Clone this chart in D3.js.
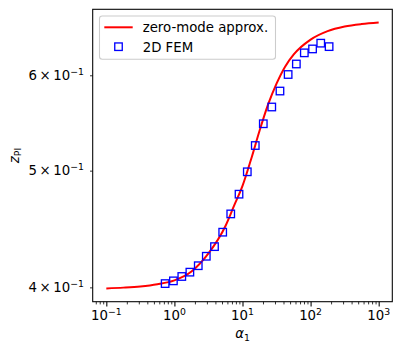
<!DOCTYPE html>
<html>
<head>
<meta charset="utf-8">
<script src="https://cdn.jsdelivr.net/npm/d3@7"></script>
<style>
  body { margin: 0; background: #fff; }
  svg { display: block; font-family: "DejaVu Sans", sans-serif; }
</style>
</head>
<body>
<svg id="chart" width="402" height="354"></svg>
<script>
// zero-mode approximation curve
const curveX = [0.1, 0.178, 0.316, 0.562, 1, 1.78, 3.16, 5.62, 7.5, 10, 13.3, 17.8, 23.7, 31.6, 42.2, 56.2, 100, 178, 316, 562, 1000];
const curveY = [0.3992, 0.3998, 0.4007, 0.4024, 0.4054, 0.4123, 0.4268, 0.4498, 0.4674, 0.4856, 0.5105, 0.5396, 0.5672, 0.5905, 0.6100, 0.6242, 0.6424, 0.6529, 0.6586, 0.6617, 0.6636];

// 2D FEM points
const femX = [0.731, 0.967, 1.284, 1.687, 2.24, 2.94, 3.88, 5.12, 6.72, 8.89, 11.76, 15.4, 20.2, 26.9, 35.5, 46.8, 61.8, 80.9, 106.9, 141, 187];
const femY = [0.4029, 0.4050, 0.4084, 0.4118, 0.4169, 0.4245, 0.4324, 0.4445, 0.4603, 0.4780, 0.4989, 0.5246, 0.5469, 0.5647, 0.5822, 0.6009, 0.6131, 0.6263, 0.6310, 0.6380, 0.6338];

// tick labels
const xTicks = [0.1, 1, 10, 100, 1000];
const xTickExp = ["\u22121", "0", "1", "2", "3"];
const yTicks = [0.4, 0.5, 0.6];
const yTickMant = ["4", "5", "6"];

const legendLabels = ["zero-mode approx.", "2D FEM"];

// plot box
const boxLeft = 92.7, boxRight = 392.3, boxTop = 9.3, boxBottom = 301.7;
const fontSize = 13.3, supSize = 9.3;

const svg = d3.select("#chart");

// matplotlib style 5% margins in log space
function logDomain(vals) {
    const lo = Math.log10(d3.min(vals)), hi = Math.log10(d3.max(vals));
    const m = (hi - lo) * 0.05;
    return [Math.pow(10, lo - m), Math.pow(10, hi + m)];
}

const x = d3.scaleLog().domain(logDomain(curveX.concat(femX))).range([boxLeft, boxRight]);
const y = d3.scaleLog().domain(logDomain(curveY.concat(femY))).range([boxBottom, boxTop]);

// minor x ticks (2..9 of each decade inside the domain)
const xMinor = [];
for (let e = -2; e <= 3; e++) {
    for (let k = 2; k <= 9; k++) {
        const v = k * Math.pow(10, e);
        if (v >= x.domain()[0] && v <= x.domain()[1]) xMinor.push(v);
    }
}

svg.append("g")
    .attr("transform", `translate(0,${boxBottom})`)
    .call(d3.axisBottom(x).tickValues(xMinor).tickSize(2.7).tickFormat(""))
    .call(g => g.select(".domain").remove())
    .call(g => g.selectAll("line").attr("stroke", "#000").attr("stroke-width", 0.8));

// major x ticks
svg.append("g")
    .attr("transform", `translate(0,${boxBottom})`)
    .call(d3.axisBottom(x).tickValues(xTicks).tickSize(4.7).tickFormat(""))
    .call(g => g.select(".domain").remove())
    .call(g => g.selectAll("line").attr("stroke", "#000").attr("stroke-width", 1.07));

// y ticks (minor in matplotlib terms)
svg.append("g")
    .attr("transform", `translate(${boxLeft},0)`)
    .call(d3.axisLeft(y).tickValues(yTicks).tickSize(2.7).tickFormat(""))
    .call(g => g.select(".domain").remove())
    .call(g => g.selectAll("line").attr("stroke", "#000").attr("stroke-width", 0.8));

// x tick labels
const xl = svg.append("g").attr("font-size", fontSize);
xTicks.forEach((v, i) => {
    const t = xl.append("text")
        .attr("x", x(v))
        .attr("y", 320)
        .attr("text-anchor", "middle");
    t.append("tspan").text("10");
    t.append("tspan").attr("font-size", supSize).attr("dy", -5.5).text(xTickExp[i]);
});

// y tick labels
const yl = svg.append("g").attr("font-size", fontSize);
yTicks.forEach((v, i) => {
    const t = yl.append("text")
        .attr("x", 84)
        .attr("y", y(v) + 4.8)
        .attr("text-anchor", "end");
    t.append("tspan").text(yTickMant[i] + "\u2009\u00d7\u200910");
    t.append("tspan").attr("font-size", supSize).attr("dy", -5.5).text("\u22121");
});

// axis labels
svg.append("text")
    .attr("x", (boxLeft + boxRight) / 2)
    .attr("y", 338)
    .attr("text-anchor", "middle")
    .attr("font-size", fontSize)
    .call(t => {
        t.append("tspan").attr("font-style", "italic").text("\u03b1");
        t.append("tspan").attr("font-size", supSize).attr("dy", 2.5).text("1");
    });

svg.append("text")
    .attr("transform", `translate(18.5,${(boxTop + boxBottom) / 2}) rotate(-90)`)
    .attr("text-anchor", "middle")
    .attr("font-size", fontSize)
    .call(t => {
        t.append("tspan").attr("font-style", "italic").text("z");
        t.append("tspan").attr("font-size", supSize).attr("dy", 2.5).text("PI");
    });

// curve
const curveData = curveX.map((v, i) => ({ x: v, y: curveY[i] }));
svg.append("path")
    .datum(curveData)
    .attr("fill", "none")
    .attr("stroke", "#ff0000")
    .attr("stroke-width", 2)
    .attr("d", d3.line().x(d => x(d.x)).y(d => y(d.y)).curve(d3.curveMonotoneX));

// FEM squares
const side = 7.5;
svg.append("g")
    .selectAll("rect")
    .data(femX.map((v, i) => ({ x: v, y: femY[i] })))
    .join("rect")
    .attr("x", d => x(d.x) - side / 2)
    .attr("y", d => y(d.y) - side / 2)
    .attr("width", side)
    .attr("height", side)
    .attr("fill", "none")
    .attr("stroke", "#0000ff")
    .attr("stroke-width", 1.33);

// frame
svg.append("rect")
    .attr("x", boxLeft)
    .attr("y", boxTop)
    .attr("width", boxRight - boxLeft)
    .attr("height", boxBottom - boxTop)
    .attr("fill", "none")
    .attr("stroke", "#000")
    .attr("stroke-width", 1.07);

// legend
const lg = svg.append("g");
lg.append("rect")
    .attr("x", 99.5).attr("y", 16)
    .attr("width", 176).attr("height", 43.3)
    .attr("rx", 2.7)
    .attr("fill", "#fff").attr("fill-opacity", 0.8)
    .attr("stroke", "#cccccc").attr("stroke-width", 1.07);
lg.append("line")
    .attr("x1", 104.3).attr("x2", 132.7)
    .attr("y1", 27.3).attr("y2", 27.3)
    .attr("stroke", "#ff0000").attr("stroke-width", 2);
lg.append("rect")
    .attr("x", 118.5 - side / 2).attr("y", 46.7 - side / 2)
    .attr("width", side).attr("height", side)
    .attr("fill", "none").attr("stroke", "#0000ff").attr("stroke-width", 1.33);
lg.selectAll("text")
    .data(legendLabels)
    .join("text")
    .attr("x", 142.7)
    .attr("y", (d, i) => [27.3, 46.7][i] + 4.8)
    .attr("font-size", fontSize)
    .text(d => d);
</script>
</body>
</html>
